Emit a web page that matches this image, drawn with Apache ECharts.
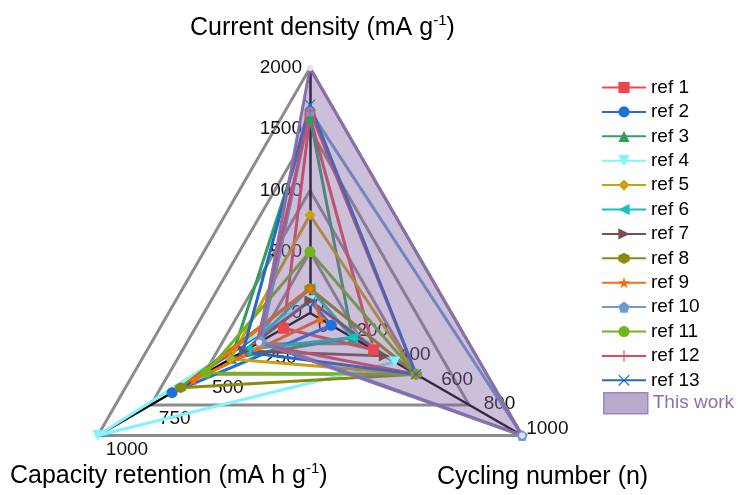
<!DOCTYPE html>
<html>
<head>
<meta charset="utf-8">
<style>
html, body { margin: 0; padding: 0; background: #fff; }
#chart { width: 742px; height: 495px; }
</style>
<script src="https://cdn.jsdelivr.net/npm/echarts@6/dist/echarts.min.js"></script>
</head>
<body>
<div id="chart"></div>
<script>
// axes: current density (top), capacity retention (bottom left), cycling number (bottom right)
var axisMax = [2000, 1000, 1000];

var refNames = ['ref 1', 'ref 2', 'ref 3', 'ref 4', 'ref 5', 'ref 6', 'ref 7',
                'ref 8', 'ref 9', 'ref 10', 'ref 11', 'ref 12', 'ref 13'];
var densityValues  = [1600, 100, 1600, 100, 800, 200, 100, 200, 200, 1650, 500, 1650, 1700];
var capacityValues = [125, 650, 370, 1000, 375, 300, 310, 610, 550, 230, 490, 250, 316];
var cyclingValues  = [300, 100, 200, 400, 500, 200, 350, 500, 50, 1000, 500, 500, 500];

var thisWorkName = 'This work';
var thisWork = [2000, 240, 1000];

var refColors = ['#e8494f', '#1f6fdc', '#2f9e62', '#7ff3ff', '#c9a00f', '#10c4c4', '#7b4f4f',
                 '#8a8a12', '#ff6a0a', '#6b9bd2', '#72b51c', '#e5484e', '#2468c8'];

var hexagon = 'path://M5,0 L10,2.9 L10,8.7 L5,11.6 L0,8.7 L0,2.9 Z';
var star = 'path://M5,0 L6.2,3.6 L10,3.6 L6.9,5.9 L8.1,9.5 L5,7.3 L1.9,9.5 L3.1,5.9 L0,3.6 L3.8,3.6 Z';
var pentagon = 'path://M5,0 L10,3.8 L8.1,9.8 L1.9,9.8 L0,3.8 Z';
var plus = 'path://M4.5,0 H5.5 V4.5 H10 V5.5 H5.5 V10 H4.5 V5.5 H0 V4.5 H4.5 Z';
var cross = 'path://M0.7,0 L5,4.3 L9.3,0 L10,0.7 L5.7,5 L10,9.3 L9.3,10 L5,5.7 L0.7,10 L0,9.3 L4.3,5 L0,0.7 Z';

var refSymbols = ['rect', 'circle', 'triangle', 'triangle', 'diamond', 'triangle', 'triangle',
                  hexagon, star, pentagon, 'circle', plus, cross];
var refRotates = [0, 0, 0, 180, 0, 90, -90, 0, 0, 0, 0, 0, 0];

var font = 'Liberation Sans, Arial, sans-serif';

var series = [];
// empty line series only to give the legend line+marker icons
refNames.forEach(function (n, i) {
    series.push({
        type: 'line', name: n, data: [],
        symbol: refSymbols[i], symbolRotate: refRotates[i],
        lineStyle: { color: refColors[i], width: 3.2 },
        itemStyle: { color: refColors[i] }
    });
});
refNames.forEach(function (n, i) {
    series.push({
        type: 'radar', radarIndex: 0, name: n,
        symbol: refSymbols[i], symbolRotate: refRotates[i], symbolSize: 11,
        lineStyle: { color: refColors[i], width: 3 },
        itemStyle: { color: refColors[i] },
        data: [{ name: n, value: [densityValues[i], capacityValues[i], cyclingValues[i]] }]
    });
});
series.push({
    type: 'radar', radarIndex: 0, name: thisWorkName,
    symbol: 'circle', symbolSize: 6,
    lineStyle: { color: '#8b74a9', width: 3 },
    itemStyle: { color: '#e4dcf2' },
    areaStyle: { color: 'rgba(127,99,161,0.58)' },
    data: [{ name: thisWorkName, value: thisWork }]
});

var labelStyle = {
    show: false, fontSize: 19, color: '#111', fontFamily: font, margin: 8,
    formatter: function (v) { return String(v); }
};
var titleRich = {
    n: { fontSize: 25, lineHeight: 30, fontWeight: 'normal', color: '#000', fontFamily: font },
    s: { fontSize: 15, lineHeight: 20, fontWeight: 'normal', verticalAlign: 'top', color: '#000', fontFamily: font }
};

var option = {
    animation: false,
    title: [
        {
            text: '{n|Current density (mA g}{s|-1}{n|)}', left: 190, top: 13, padding: 0,
            textStyle: { rich: titleRich }
        },
        {
            text: '{n|Capacity retention (mA h g}{s|-1}{n|)}', left: 10, top: 461, padding: 0,
            textStyle: { rich: titleRich }
        },
        {
            text: 'Cycling number (n)', left: 437, top: 462, padding: 0,
            textStyle: { fontSize: 25, lineHeight: 30, fontWeight: 'normal', color: '#000', fontFamily: font }
        }
    ],
    legend: [
        {
            orient: 'vertical', left: 601, top: 78, padding: 0,
            itemWidth: 44, itemHeight: 14, itemGap: 5.4,
            textStyle: { fontSize: 19, color: '#000', fontFamily: font },
            data: refNames,
            selectedMode: false
        },
        {
            orient: 'vertical', left: 603, top: 392, padding: 0,
            itemWidth: 44, itemHeight: 21,
            textStyle: { fontSize: 19, color: '#8a70b0', fontFamily: font },
            data: [{ name: thisWorkName, icon: 'rect',
                     itemStyle: { color: '#b8aacd', borderColor: '#9a88b8', borderWidth: 1.5 } }],
            selectedMode: false
        }
    ],
    grid: { left: 0, top: 0, width: 1, height: 1, show: false },
    xAxis: { show: false, type: 'value' },
    yAxis: { show: false, type: 'value' },
    radar: [
        {
            center: [310, 313], radius: 245, startAngle: 90, shape: 'polygon', splitNumber: 4,
            axisName: { show: false },
            indicator: [
                { name: '', max: axisMax[0], axisLabel: { show: true } },
                { name: '', max: axisMax[1], axisLabel: { show: true, margin: 16 } },
                { name: '', max: axisMax[2], axisLabel: { show: false } }
            ],
            axisLine: { lineStyle: { color: '#000', width: 2.5 } },
            axisTick: { show: false },
            axisLabel: labelStyle,
            splitLine: { lineStyle: { color: '#8c8c8c', width: 3 } },
            splitArea: { show: false }
        },
        {
            center: [310, 313], radius: 245, startAngle: 90, shape: 'polygon', splitNumber: 5,
            axisName: { show: false },
            indicator: [
                { name: '', max: axisMax[0], axisLabel: { show: false } },
                { name: '', max: axisMax[1], axisLabel: { show: false } },
                { name: '', max: axisMax[2], axisLabel: { show: true } }
            ],
            axisLine: { show: false },
            axisTick: { show: false },
            axisLabel: labelStyle,
            splitLine: { show: false },
            splitArea: { show: false }
        }
    ],
    series: series
};

echarts.init(document.getElementById('chart')).setOption(option);
</script>
</body>
</html>
